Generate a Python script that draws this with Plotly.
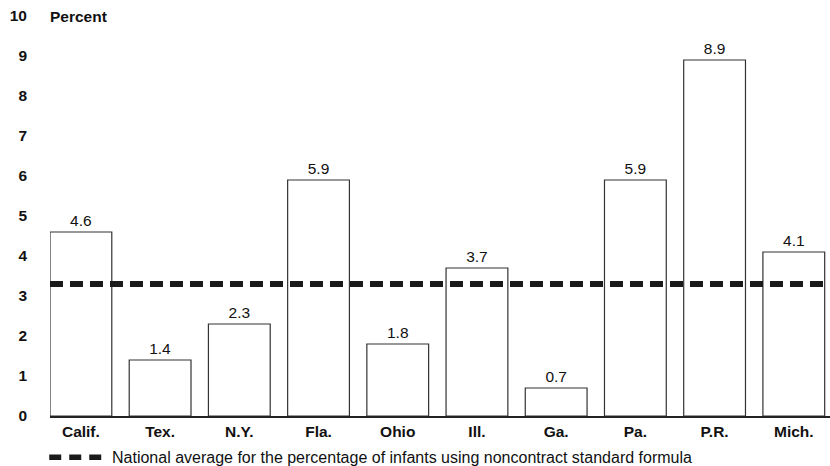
import plotly.graph_objects as go

states = ["Calif.", "Tex.", "N.Y.", "Fla.", "Ohio", "Ill.", "Ga.", "Pa.", "P.R.", "Mich."]
percent = [4.6, 1.4, 2.3, 5.9, 1.8, 3.7, 0.7, 5.9, 8.9, 4.1]
national_avg = 3.3
y_ticks = [0, 1, 2, 3, 4, 5, 6, 7, 8, 9, 10]
legend_text = "National average for the percentage of infants using noncontract standard formula"

FONT = "Liberation Sans, Arial, sans-serif"
INK = "#111111"

fig = go.Figure()
fig.add_trace(go.Bar(
    x=list(range(len(states))),
    y=percent,
    width=0.78,
    marker=dict(color="white", line=dict(color="#333333", width=1.2)),
    text=[f"{v:.1f}" for v in percent],
    textposition="outside",
    textfont=dict(family=FONT, size=15.5, color=INK),
    cliponaxis=False,
    showlegend=False,
    hoverinfo="skip",
))

fig.add_shape(type="line", xref="paper", yref="y", x0=0, x1=1,
              y0=national_avg, y1=national_avg,
              line=dict(color="#1a1a1a", width=6, dash="13px,7px"))

# legend symbol + text
fig.add_shape(type="line", xref="paper", yref="paper", x0=-0.001, x1=0.069,
              y0=-0.103, y1=-0.103,
              line=dict(color="#1a1a1a", width=5.5, dash="12px,8px"))
fig.add_annotation(xref="paper", yref="paper", x=0.0765, y=-0.103,
                   xanchor="left", yanchor="middle", showarrow=False,
                   text=legend_text,
                   font=dict(family=FONT, size=16, color=INK))

fig.add_annotation(xref="paper", yref="y", x=-0.002, y=10, xanchor="left",
                   yanchor="middle", showarrow=False, text="<b>Percent</b>",
                   font=dict(family=FONT, size=15.5, color=INK))

fig.update_layout(
    width=830, height=466,
    margin=dict(l=50, r=0, t=16, b=50),
    plot_bgcolor="white", paper_bgcolor="white",
    bargap=0.2,
    xaxis=dict(
        range=[-0.39, 9.457],
        tickmode="array",
        tickvals=list(range(len(states))),
        ticktext=[f"<b>{s}</b>" for s in states],
        tickfont=dict(family=FONT, size=15.5, color=INK),
        showline=True, linecolor="#222222", linewidth=2,
        showgrid=False, zeroline=False, ticks="",
    ),
    yaxis=dict(
        range=[0, 10],
        tickmode="array",
        tickvals=y_ticks,
        ticktext=[f"<b>{t}</b>" for t in y_ticks],
        tickfont=dict(family=FONT, size=15.5, color=INK),
        showgrid=False, zeroline=False, showline=False, ticks="",
        ticklabelstandoff=22,
    ),
)

fig.write_html("out.html", config={"displayModeBar": False},
               post_script="document.body.style.margin='0';document.body.style.overflow='hidden';")
